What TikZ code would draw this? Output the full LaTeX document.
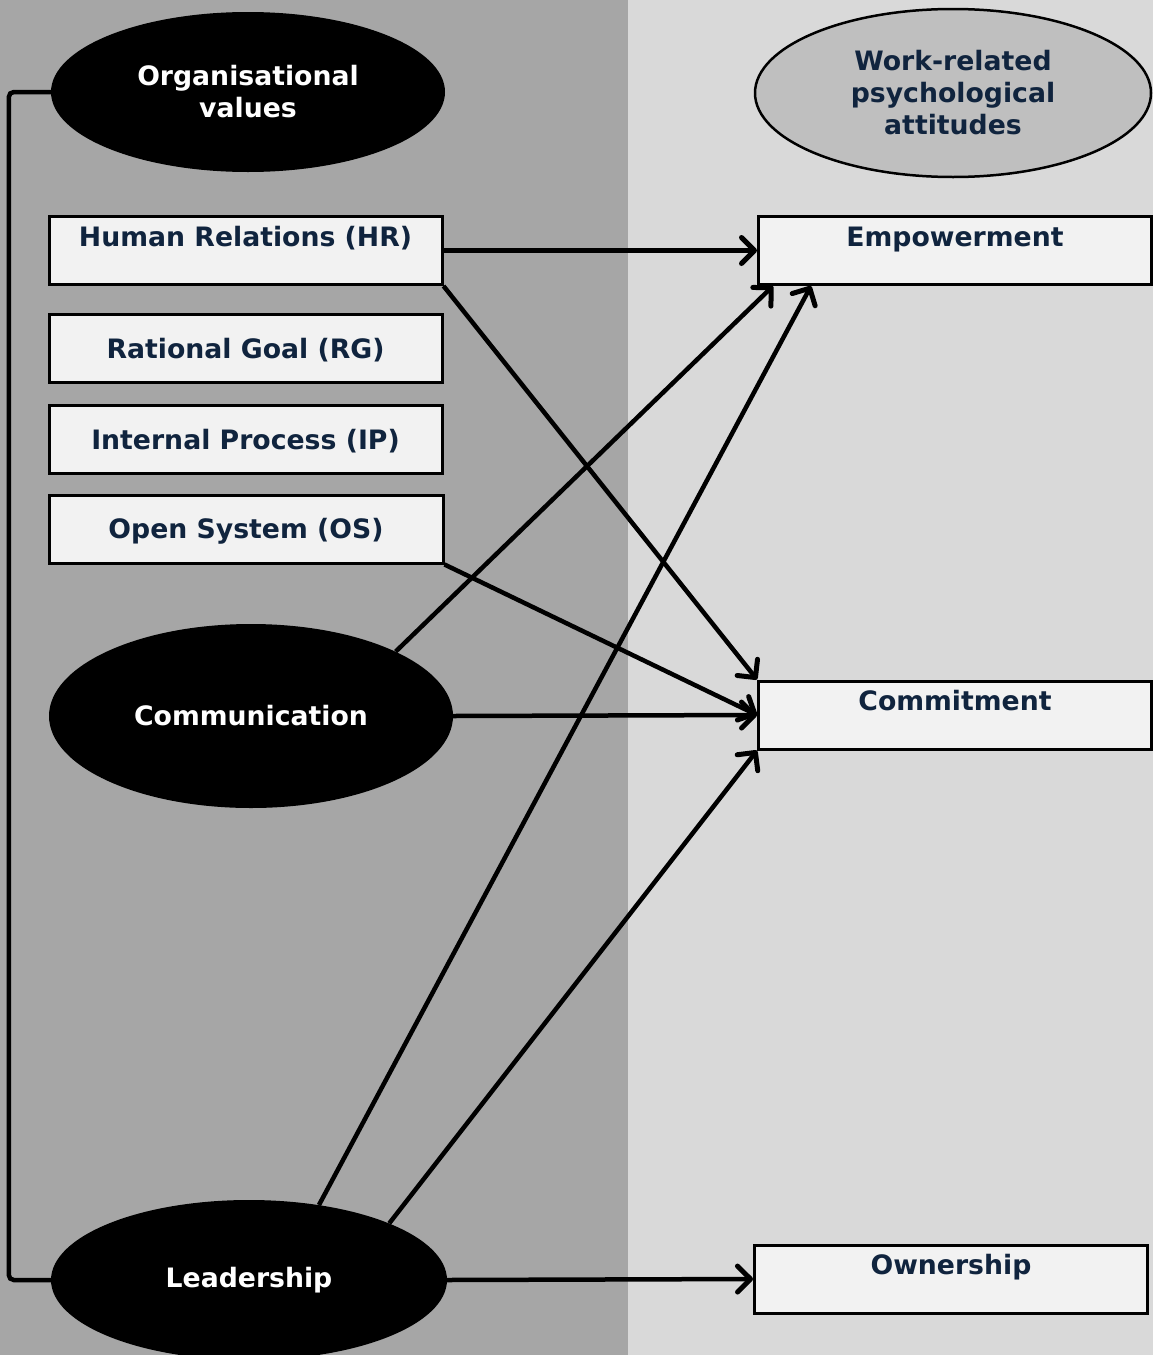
\documentclass[tikz,border=0pt]{standalone}
\usepackage{fontspec}
\setmainfont{DejaVu Sans}
\usetikzlibrary{arrows.meta,shapes.geometric,calc}
\definecolor{navy}{HTML}{10243E}
\definecolor{leftbg}{HTML}{A6A6A6}
\definecolor{rightbg}{HTML}{D9D9D9}
\definecolor{boxfill}{HTML}{F2F2F2}
\definecolor{headfill}{HTML}{BFBFBF}
\begin{document}
\begin{tikzpicture}[x=1pt,y=-1pt,
  font=\fontsize{26.7}{32}\selectfont\bfseries,
  dark/.style={ellipse, fill=black, text=white, inner sep=0pt, align=center},
  head/.style={ellipse, draw=black, line width=2.5pt, fill=headfill, text=navy, inner sep=0pt, align=center},
  box/.style={rectangle, draw=black, line width=3pt, fill=boxfill, text=navy,
              minimum width=393pt, minimum height=68pt, inner sep=0pt},
  midtext/.style={yshift=-2pt},
  boxtext/.style={text=navy, inner sep=0pt, text height=20pt, anchor=north, yshift=-11pt},
  link/.style={line width=4.5pt,
    -{Straight Barb[length=13pt,width=26pt,line width=5pt,line cap=round,round]}}
]
% two background panels
\fill[leftbg] (0,0) rectangle (628,1355);
\fill[rightbg] (628,0) rectangle (1153,1355);
\useasboundingbox (0,0) rectangle (1153,1355);

% left column
\node[dark, minimum width=394pt, minimum height=160pt] (org) at (248,92) {Organisational\\values};
\node[box] (hr) at (245.5,250.5) {};
\node[boxtext] (hrt) at (hr.north) {Human Relations (HR)};
\node[box] (rg) at (245.5,348) {};
\node[midtext] (rgt) at (rg.center) {\textcolor{navy}{Rational Goal (RG)}};
\node[box] (ip) at (245.5,439) {};
\node[midtext] (ipt) at (ip.center) {\textcolor{navy}{Internal Process (IP)}};
\node[box, minimum width=394pt] (os) at (246,529) {};
\node[midtext] (ost) at (os.center) {\textcolor{navy}{Open System (OS)}};
\node[dark, minimum width=404pt, minimum height=184pt] (comm) at (251,716) {Communication};
\node[dark, minimum width=396pt, minimum height=160pt] (lead) at (249,1280) {Leadership};

% right column
\node[head, minimum width=396pt, minimum height=168pt] (wra) at (953,93) {Work-related\\psychological\\attitudes};
\node[box] (emp) at (955,250.5) {};
\node[boxtext] (empt) at (emp.north) {Empowerment};
\node[box] (com) at (955,715) {};
\node[boxtext] (comt) at (com.north) {Commitment};
\node[box] (own) at (951,1279) {};
\node[boxtext] (ownt) at (own.north) {Ownership};

% bracket joining the organisational values
\draw[line width=4.5pt, rounded corners=5pt] (org.west) -- ++(-42,0) |- (lead.west);

% relations
\draw[link] (hr.east) -- (emp.west);
\draw[link] (hr.south east) -- (com.north west);
\draw[link] (os.south east) -- (com.west);
\draw[link] (comm.24) -- ($(emp.south west)+(16,0)$);
\draw[link] (comm.east) -- (com.west);
\draw[link] (lead.47) -- ($(emp.south west)+(54,0)$);
\draw[link] (lead.22) -- (com.south west);
\draw[link] (lead.east) -- (own.west);
\end{tikzpicture}
\end{document}
